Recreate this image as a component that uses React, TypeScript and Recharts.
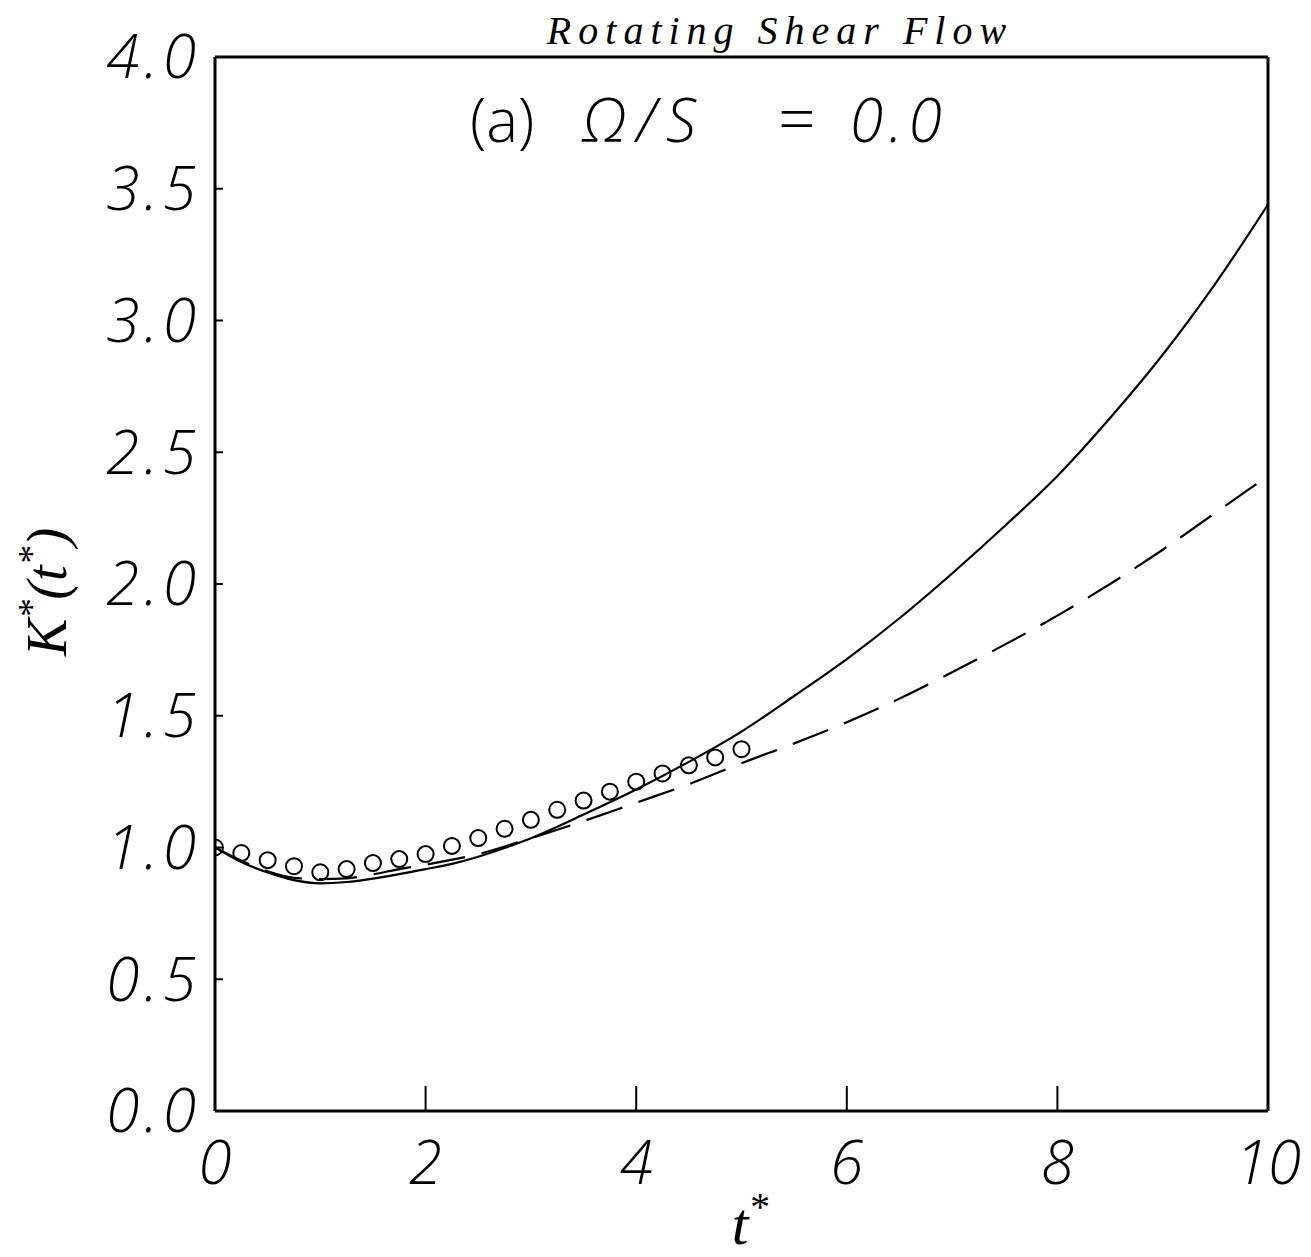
import { ComposedChart, Line, Scatter, XAxis, YAxis, ReferenceLine, Customized } from "recharts";

// DNS / model curves, K*(t*) vs t*
const solidT = [0, 0.25, 0.5, 0.75, 1, 1.25, 1.5, 1.75, 2, 2.25, 2.5, 2.75, 3, 3.5, 4, 4.5, 5, 5.5, 6, 6.5, 7, 7.5, 8, 8.5, 9, 9.5, 10];
const solidK = [1.0, 0.945, 0.905, 0.876, 0.864, 0.869, 0.882, 0.899, 0.918, 0.938, 0.965, 0.998, 1.035, 1.125, 1.22, 1.325, 1.44, 1.575, 1.715, 1.87, 2.04, 2.22, 2.41, 2.63, 2.87, 3.14, 3.44];

const dashedT = [0, 0.25, 0.5, 0.75, 1, 1.25, 1.5, 1.75, 2, 2.5, 3, 3.5, 4, 4.5, 5, 5.5, 6, 6.5, 7, 7.5, 8, 8.5, 9, 9.5, 10];
const dashedK = [1.0, 0.95, 0.91, 0.885, 0.88, 0.883, 0.898, 0.918, 0.935, 0.975, 1.035, 1.1, 1.17, 1.24, 1.32, 1.395, 1.475, 1.565, 1.665, 1.77, 1.88, 2.0, 2.13, 2.27, 2.41];

// open circles (experiment)
const circleT = [0, 0.25, 0.5, 0.75, 1, 1.25, 1.5, 1.75, 2, 2.25, 2.5, 2.75, 3, 3.25, 3.5, 3.75, 4, 4.25, 4.5, 4.75, 5];
const circleK = [1.0, 0.979, 0.952, 0.929, 0.906, 0.918, 0.941, 0.956, 0.975, 1.006, 1.036, 1.071, 1.105, 1.143, 1.178, 1.212, 1.25, 1.281, 1.312, 1.342, 1.373];

const xTicks = [0, 2, 4, 6, 8, 10];
const yTicks = [0, 0.5, 1, 1.5, 2, 2.5, 3, 3.5, 4];

const solidData = solidT.map((t, i) => ({ t, k: solidK[i] }));
const dashedData = dashedT.map((t, i) => ({ t, k: dashedK[i] }));
const circleData = circleT.map((t, i) => ({ t, k: circleK[i] }));

const tickFont = {
  fontFamily: "'Open Sans', sans-serif",
  fontStyle: "italic",
  fontWeight: 300,
  fontSize: 60,
  fill: "#000",
};

function Annotations() {
  return (
    <g>
      <text
        x={772}
        y={36}
        textAnchor="middle"
        fontFamily="'Liberation Serif', serif"
        fontStyle="italic"
        fontSize={40}
        letterSpacing={7}
        fill="#000"
      >
        Rotating Shear Flow
      </text>
      <text y={134} fontSize={60} fill="#000" fontFamily="'Open Sans', sans-serif" fontWeight={300}>
        <tspan x={462}>(a)</tspan>
        <tspan x={574} fontStyle="italic" letterSpacing={10}>Ω/S</tspan>
        <tspan x={770} fontSize={66}>=</tspan>
        <tspan x={842} fontStyle="italic" letterSpacing={6}>0.0</tspan>
      </text>
      <text
        x={58}
        y={584}
        transform="rotate(-90 58 584)"
        textAnchor="middle"
        fontFamily="'Liberation Serif', serif"
        fontStyle="italic"
        fontSize={56}
        fill="#000"
      >
        K<tspan dy={-22} fontSize={38}>*</tspan>
        <tspan dy={22}>(t</tspan>
        <tspan dy={-22} fontSize={38}>*</tspan>
        <tspan dy={22}>)</tspan>
      </text>
      <text
        x={742}
        y={1236}
        textAnchor="middle"
        fontFamily="'Liberation Serif', serif"
        fontStyle="italic"
        fontSize={60}
        fill="#000"
      >
        t<tspan dy={-24} fontSize={40}>*</tspan>
      </text>
    </g>
  );
}

export default function App() {
  return (
    <ComposedChart
      width={1303}
      height={1249}
      margin={{ top: 49, right: 43, left: 0, bottom: 0 }}
      style={{ background: "#fff" }}
    >
      <XAxis
        type="number"
        dataKey="t"
        domain={[0, 10]}
        ticks={xTicks}
        height={146}
        axisLine={{ stroke: "#000", strokeWidth: 3 }}
        tickLine={{ stroke: "#000", strokeWidth: 2 }}
        tickSize={-25}
        tickMargin={55}
        tick={tickFont}
        allowDataOverflow
      />
      <YAxis
        type="number"
        domain={[0, 4]}
        ticks={yTicks}
        width={207}
        axisLine={{ stroke: "#000", strokeWidth: 3 }}
        tickLine={{ stroke: "#000", strokeWidth: 2 }}
        tickSize={-8}
        tickMargin={22}
        tick={{ ...tickFont, letterSpacing: 5 }}
        tickFormatter={(v: number) => v.toFixed(1)}
        allowDataOverflow
      />
      {/* frame: top and right edges */}
      <ReferenceLine y={4} stroke="#000" strokeWidth={3} />
      <ReferenceLine x={10} stroke="#000" strokeWidth={3} />
      <Line
        data={solidData}
        dataKey="k"
        type="monotone"
        stroke="#000"
        strokeWidth={2.2}
        dot={false}
        isAnimationActive={false}
      />
      <Line
        data={dashedData}
        dataKey="k"
        type="monotone"
        stroke="#000"
        strokeWidth={2.2}
        strokeDasharray="38 17"
        dot={false}
        isAnimationActive={false}
      />
      <Scatter
        data={circleData}
        dataKey="k"
        isAnimationActive={false}
        shape={(p: any) => (
          <circle cx={p.cx} cy={p.cy} r={8} fill="none" stroke="#000" strokeWidth={2} />
        )}
      />
      <Customized component={<Annotations />} />
    </ComposedChart>
  );
}
